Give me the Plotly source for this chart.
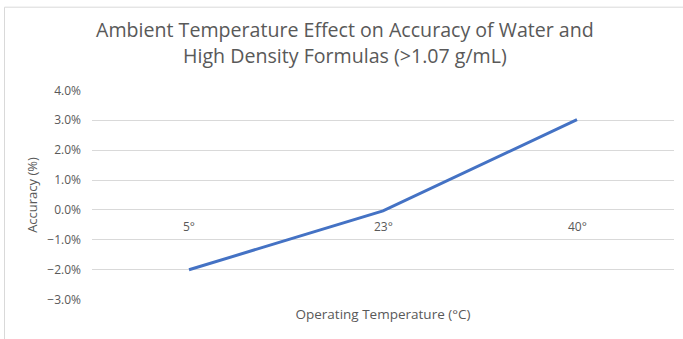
import plotly.graph_objects as go

# Chart data
temps = ["5°", "23°", "40°"]
accuracy = [-0.020, -0.0003, 0.0302]
y_ticks = [-0.03, -0.02, -0.01, 0.0, 0.01, 0.02, 0.03, 0.04]

W, H = 683, 339
L, R, T, B = 92, 9, 89.5, 39
plot_w = W - L - R
plot_h = H - T - B

grey = "#595959"
grid = "#d9d9d9"

fig = go.Figure(
    go.Scatter(
        x=temps,
        y=accuracy,
        mode="lines",
        line=dict(color="#4472C4", width=3),
        hoverinfo="skip",
    )
)

# category labels sit just under the zero line, Excel style
for t in temps:
    fig.add_annotation(
        x=t, y=0, xref="x", yref="y", text=t, showarrow=False,
        yshift=-17, font=dict(size=12, color=grey),
    )

# light outer chart border (left/top edges visible, others run off the page)
fig.add_shape(
    type="rect", xref="paper", yref="paper",
    x0=(4.5 - L) / plot_w, x1=(W + 10 - L) / plot_w,
    y0=-(B + 10) / plot_h,
    y1=(H - B - 6.5) / plot_h,
    line=dict(color=grid, width=1),
    fillcolor="rgba(0,0,0,0)", layer="below",
)

fig.update_layout(
    width=W, height=H,
    margin=dict(l=L, r=R, t=T, b=B),
    paper_bgcolor="white", plot_bgcolor="white",
    font=dict(family="Open Sans", color=grey),
    showlegend=False,
    title=dict(
        text="Ambient Temperature Effect on Accuracy of Water and<br>High Density Formulas (>1.07 g/mL)",
        x=0.505, xanchor="center", y=0.89, yanchor="top",
        font=dict(size=19.6, color=grey),
    ),
    xaxis=dict(
        type="category", range=[-0.5, 2.5], automargin=False,
        showticklabels=False, showgrid=False, zeroline=False, showline=False,
        title=dict(text="Operating Temperature (°C)", font=dict(size=13.5, color=grey), standoff=9),
    ),
    yaxis=dict(
        range=[-0.0301, 0.0401], tickvals=y_ticks, tickformat=".1%", automargin=False,
        showgrid=True, gridcolor=grid, gridwidth=1,
        zeroline=True, zerolinecolor=grid, zerolinewidth=1,
        showline=False, ticks="", ticklabelstandoff=10,
        tickfont=dict(size=12, color=grey),
        title=dict(text="Accuracy (%)", font=dict(size=13, color=grey), standoff=6),
    ),
)

# drop the page's default body margin so the figure sits flush in the window
fig.write_html(
    "out.html",
    config={"displayModeBar": False},
    post_script="document.body.style.margin='0';",
)
